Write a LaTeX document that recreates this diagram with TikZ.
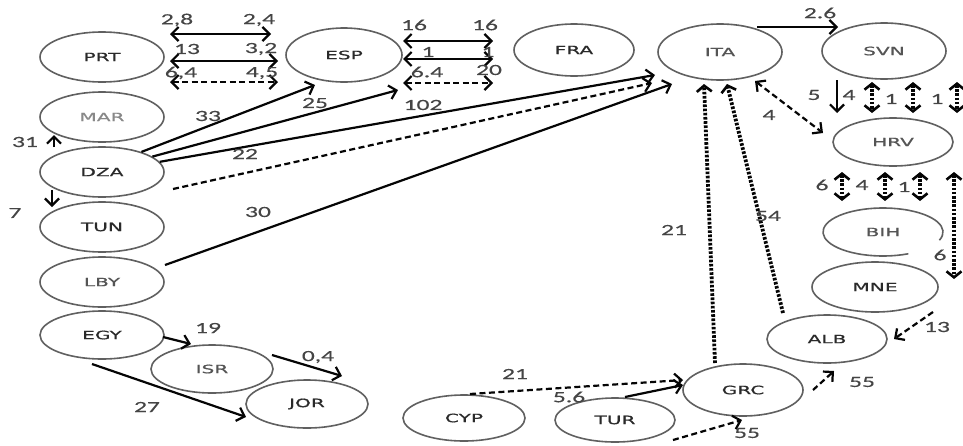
\documentclass[tikz,border=0pt]{standalone}
\usepackage{fontspec}
\usetikzlibrary{shapes.geometric,arrows.meta}
\newfontfamily\lblfont[FakeStretch=1.65,FakeBold=0.3]{Carlito}
\newfontfamily\ndfont[FakeStretch=1.75,FakeBold=0.8]{DejaVu Sans}
\definecolor{ell}{HTML}{606060}
\definecolor{lbl}{HTML}{454545}
\definecolor{ndk}{HTML}{2A2A2A}
\definecolor{ndm}{HTML}{555555}
\definecolor{ndl}{HTML}{888888}
\definecolor{ink}{HTML}{050505}
\begin{document}
\begin{tikzpicture}[x=1pt,y=-1pt,
  cty/.style={ellipse, draw=ell, line width=1.6pt, inner sep=0pt,
    font=\ndfont\fontsize{11.5}{11.5}\selectfont, text=ndk},
  sz/.style 2 args={minimum width=#1pt, minimum height=#2pt},
  lb/.style={font=\lblfont\fontsize{15.5}{15.5}\selectfont, text=lbl, inner sep=0pt},
  tipa/.style={-{Straight Barb[length=7pt,width=14pt,line width=2.2pt]}},
  arr/.style={draw=ink, line width=2.2pt, tipa},
  dbl/.style={draw=ink, line width=2.2pt, {Straight Barb[length=7pt,width=14pt,line width=2.2pt]}-{Straight Barb[length=7pt,width=14pt,line width=2.2pt]}},
  dsh/.style={dash pattern=on 6pt off 3.5pt},
  dotd/.style={draw=ink, line width=3.8pt, dash pattern=on 2.6pt off 1.6pt,
    {Straight Barb[length=6pt,width=15pt,line width=2.6pt]}-{Straight Barb[length=6pt,width=15pt,line width=2.6pt]}},
  dota/.style={draw=ink, line width=3.8pt, dash pattern=on 2.6pt off 1.6pt,
    -{Straight Barb[length=6pt,width=15pt,line width=2.6pt]}}
]
\fill[white] (0,0) rectangle (963,445);
\useasboundingbox (0,0) rectangle (963,445);

% countries
\node[cty, sz={124}{50}] (prt) at (102,57) {PRT};
\node[cty, sz={124}{50}, text=ndl] (mar) at (102,117) {MAR};
\node[cty, sz={124}{50}] (dza) at (102,172) {DZA};
\node[cty, sz={124}{50}] (tun) at (102,227) {TUN};
\node[cty, sz={124}{50}, text=ndm] (lby) at (102,282) {LBY};
\node[cty, sz={124}{48}] (egy) at (102,335) {EGY};
\node[cty, sz={122}{48}, text=ndm] (isr) at (212,369) {ISR};
\node[cty, sz={122}{48}] (jor) at (307,404) {JOR};
\node[cty, sz={116}{54}] (esp) at (344,55) {ESP};
\node[cty, sz={120}{52}] (fra) at (574,50) {FRA};
\node[cty, sz={124}{56}, text=ndm] (ita) at (720,52) {ITA};
\node[cty, sz={124}{56}, text=ndm] (svn) at (884,51) {SVN};
\node[cty, sz={120}{48}, text=ndm] (hrv) at (893,142) {HRV};
\node[cty, sz={120}{48}, draw=none, text=ndm] (bih) at (883,232) {BIH};
\draw[ell, line width=1.6pt] ([shift={(-20:60pt and 24pt)}]bih.center)
  arc[start angle=-20, end angle=295, x radius=60pt, y radius=24pt];
\node[cty, sz={126}{50}] (mne) at (875,287) {MNE};
\node[cty, sz={120}{48}] (alb) at (827,339) {ALB};
\node[cty, sz={120}{52}] (grc) at (743,390) {GRC};
\node[cty, sz={120}{44}] (tur) at (615,420) {TUR};
\node[cty, sz={122}{46}] (cyp) at (464,418) {CYP};

% free ends
\coordinate (pe1l) at (170,34); \coordinate (pe1r) at (271,34);
\coordinate (pe2l) at (170,61); \coordinate (pe2r) at (278,61);
\coordinate (pe3l) at (170,82); \coordinate (pe3r) at (278,82);
\coordinate (ef1l) at (403,41); \coordinate (ef1r) at (493,41);
\coordinate (ef2l) at (403,59); \coordinate (ef2r) at (493,59);
\coordinate (ef3l) at (403,83); \coordinate (ef3r) at (493,83);
\coordinate (espA) at (315,85); \coordinate (espB) at (398,90);
\coordinate (itaA) at (655,75); \coordinate (dzaD) at (173,189);
\coordinate (itaB) at (652,83); \coordinate (lbyS) at (165,265);
\coordinate (itaC) at (672,84);
\coordinate (dzaU0) at (54,147); \coordinate (marB) at (54,135);
\coordinate (dzaD0) at (52,190); \coordinate (tunT) at (52,207);
\coordinate (egyR) at (163,337); \coordinate (isrL) at (191,344);
\coordinate (egyB) at (92,364); \coordinate (jorL) at (246,417);
\coordinate (isrR) at (272,355); \coordinate (jorT) at (342,376);
\coordinate (cypT) at (470,394); \coordinate (grcL1) at (683,380);
\coordinate (turT) at (625,397); \coordinate (grcL2) at (683,385);
\coordinate (turR) at (673,440); \coordinate (grcB) at (742,420);
\coordinate (grcR) at (813,390); \coordinate (albB) at (834,371);
\coordinate (mneB) at (933,312); \coordinate (albR) at (894,339);
\coordinate (grcT) at (715,363); \coordinate (itaD) at (704,84);
\coordinate (albT) at (783,313); \coordinate (itaE) at (727,84);
\coordinate (itaR) at (757,27); \coordinate (svnL) at (838,27);
\coordinate (itaF) at (755,81); \coordinate (hrvL) at (823,133);
\coordinate (svnB) at (837,80); \coordinate (hrvT) at (837,113);
\coordinate (sh1a) at (872,82); \coordinate (sh1b) at (872,113);
\coordinate (sh2a) at (913,82); \coordinate (sh2b) at (913,113);
\coordinate (sh3a) at (957,82); \coordinate (sh3b) at (957,113);
\coordinate (hb1a) at (842,172); \coordinate (hb1b) at (842,201);
\coordinate (hb2a) at (885,172); \coordinate (hb2b) at (885,201);
\coordinate (hb3a) at (920,172); \coordinate (hb3b) at (920,201);
\coordinate (hm1a) at (954,172); \coordinate (hm1b) at (954,279);

% PRT - ESP
\draw[dbl] (pe1l) -- (pe1r);
\draw[dbl] (pe2l) -- (pe2r);
\draw[dbl, dsh] (pe3l) -- (pe3r);
\node[lb] (t1) at (177,20) {2,8};
\node[lb] (t2) at (259,20) {2,4};
\node[lb] (t3) at (187,49) {13};
\node[lb] (t4) at (261,49) {3,2};
\node[lb] (t5) at (181,73) {6,4};
\node[lb] (t6) at (262,73) {4,5};

% ESP - FRA
\draw[dbl] (ef1l) -- (ef1r);
\draw[dbl] (ef2l) -- (ef2r);
\draw[dbl, dsh] (ef3l) -- (ef3r);
\node[lb] (t7) at (414,25) {16};
\node[lb] (t8) at (485,25) {16};
\node[lb] (t9) at (428,52) {1};
\node[lb] (t10) at (488,52) {1};
\node[lb] (t11) at (427,72) {6.4};
\node[lb] (t12) at (489,70) {20};

% DZA / LBY to ESP, ITA
\draw[arr] (dza.27) -- (espA);
\draw[arr] (dza.17) -- (espB);
\draw[arr] (dza.10) -- (itaA);
\draw[arr, dsh] (dzaD) -- (itaB);
\draw[arr] (lbyS) -- (itaC);
\node[lb] (t13) at (208,116) {33};
\node[lb] (t14) at (315,103) {25};
\node[lb] (t15) at (423,105) {102};
\node[lb] (t16) at (245,154) {22};
\node[lb] (t17) at (258,212) {30};

% DZA - MAR, TUN
\draw[arr] (dzaU0) -- (marB);
\draw[arr] (dzaD0) -- (tunT);
\node[lb] (t18) at (25,142) {31};
\node[lb] (t19) at (15,213) {7};

% EGY, ISR, JOR
\draw[arr] (egyR) -- (isrL);
\draw[arr] (egyB) -- (jorL);
\draw[arr] (isrR) -- (jorT);
\node[lb] (t20) at (208,328) {19};
\node[lb] (t21) at (147,407) {27};
\node[lb] (t22) at (318,357) {0,4};

% CYP, TUR to GRC
\draw[arr, dsh] (cypT) -- (grcL1);
\draw[arr] (turT) -- (grcL2);
\draw[arr, dsh] (turR) -- (grcB);
\node[lb] (t23) at (515,374) {21};
\node[lb] (t24) at (569,397) {5.6};
\node[lb] (t25) at (747,433) {55};

% GRC, MNE to ALB
\draw[arr, dsh] (grcR) -- (albB);
\draw[arr, dsh] (mneB) -- (albR);
\node[lb] (t26) at (862,382) {55};
\node[lb] (t27) at (937,327) {13};

% GRC, ALB to ITA
\draw[dota] (grcT) -- (itaD);
\draw[dota] (albT) -- (itaE);
\node[lb] (t28) at (674,230) {21};
\node[lb] (t29) at (768,216) {54};

% ITA, SVN, HRV
\draw[arr] (itaR) -- (svnL);
\node[lb] (t30) at (820,13) {2.6};
\draw[dbl, dsh] (itaF) -- (hrvL);
\node[lb] (t31) at (769,115) {4};
\draw[arr] (svnB) -- (hrvT);
\node[lb] (t32) at (814,95) {5};
\node[lb] (t33) at (849,95) {4};
\draw[dotd] (sh1a) -- (sh1b);
\draw[dotd] (sh2a) -- (sh2b);
\draw[dotd] (sh3a) -- (sh3b);
\node[lb] (t34) at (891,99) {1};
\node[lb] (t35) at (937,99) {1};

% HRV - BIH, MNE
\draw[dotd] (hb1a) -- (hb1b);
\draw[dotd] (hb2a) -- (hb2b);
\draw[dotd] (hb3a) -- (hb3b);
\draw[dotd] (hm1a) -- (hm1b);
\node[lb] (t36) at (822,185) {6};
\node[lb] (t37) at (862,185) {4};
\node[lb] (t38) at (904,187) {1};
\node[lb] (t39) at (940,255) {6};
\end{tikzpicture}
\end{document}
